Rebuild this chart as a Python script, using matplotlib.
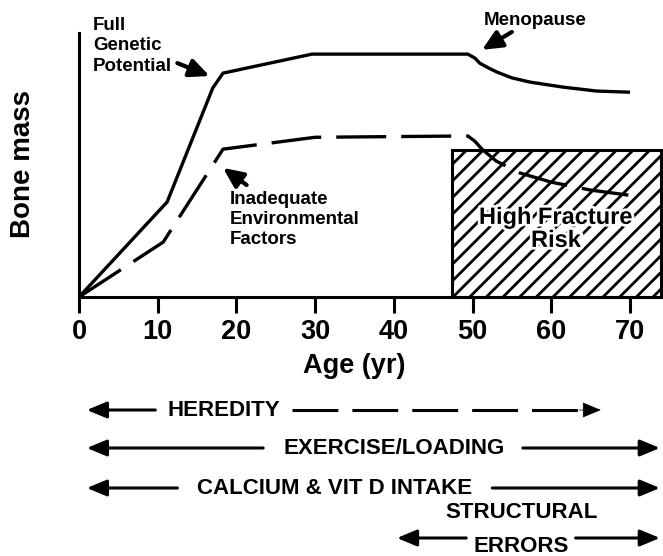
import matplotlib
matplotlib.use("Agg")
import matplotlib.pyplot as plt
import matplotlib.patheffects as pe
import matplotlib.transforms as mtransforms
from matplotlib.patches import Rectangle, FancyArrowPatch

plt.rcParams['font.family'] = 'Liberation Sans'
plt.rcParams['font.weight'] = 'bold'
plt.rcParams['hatch.linewidth'] = 2.0

# bone mass curves (age in yr, arbitrary mass units 0-100)
full_age = [0, 11.2, 17.0, 18.3, 29.6, 49.4, 50.3, 50.9, 52.0, 53.1, 55.0, 57.3, 61.5, 65.8, 69.8]
full_mass = [0, 36.0, 79.2, 84.8, 92.0, 92.0, 90.5, 88.6, 86.8, 85.2, 83.0, 81.4, 79.5, 78.0, 77.6]

low_age = [0, 10.7, 18.3, 30.0, 49.4, 50.3, 51.2, 53.0, 56.0, 60.0, 65.0, 69.8]
low_mass = [0, 20.8, 56.0, 60.5, 61.0, 59.0, 56.0, 51.5, 47.0, 43.5, 40.5, 38.6]

# high fracture risk box
risk_start = 47.35
risk_top = 55.7

age_ticks = [0, 10, 20, 30, 40, 50, 60, 70]

# factor arrows below the chart (ages where arrows start / end)
factor_labels = ['HEREDITY', 'EXERCISE/LOADING', 'CALCIUM & VIT D INTAKE', 'STRUCTURAL']
factor_from = [1.0, 1.0, 1.0, 40.4]
factor_to = [66.3, 73.8, 73.8, 73.8]
factor_mid = [18.4, 40.1, 32.5, 56.2]
gap_left = [9.7, 23.4, 12.5, 49.2]
gap_right = [27.1, 56.4, 52.5, 63.1]
factor_ypx = [410, 448, 488, 538]
factor_dashed = [True, False, False, False]

W, H = 663, 556
fig = plt.figure(figsize=(W / 100, H / 100), dpi=100)
ax = fig.add_axes([79 / W, 1 - 297 / H, (W - 79) / W, (297 - 33) / H])

def fy(py):
    # pixel row from top -> figure fraction
    return 1 - py / H

ax.plot(full_age, full_mass, color='k', lw=2.4, solid_joinstyle='miter', zorder=4)
ln, = ax.plot(low_age, low_mass, color='k', lw=2.4, zorder=4)
ln.set_dashes((15, 4.5))

ax.add_patch(Rectangle((risk_start, 0), 74.0 - risk_start, risk_top, facecolor='none',
                       edgecolor='k', hatch='//', lw=2.2, zorder=3, clip_on=False))
ax.text(60.6, 25.8, 'High Fracture\nRisk', ha='center', va='center', fontsize=17,
        linespacing=1.0, zorder=6,
        path_effects=[pe.withStroke(linewidth=4, foreground='white')])

ax.set_xlim(0, 74.2)
ax.set_ylim(0, 100)
ax.set_xticks(age_ticks)
ax.set_yticks([])
for s in ['top', 'right']:
    ax.spines[s].set_visible(False)
for s in ['left', 'bottom']:
    ax.spines[s].set_linewidth(2.2)
ax.tick_params(axis='x', direction='out', length=11.5, width=2.2, labelsize=19.5, pad=4)

aprops = dict(arrowstyle='-|>,head_length=12,head_width=5.5', mutation_scale=1,
              lw=3, color='k', shrinkA=0, shrinkB=0)
ax.text(1.8, 106, 'Full\nGenetic\nPotential', ha='left', va='top', fontsize=13.5,
        linespacing=1.25, clip_on=False)
ax.annotate('', xy=(16.6, 83.7), xytext=(12.5, 88.6), arrowprops=aprops, annotation_clip=False)
ax.text(57.9, 103.0, 'Menopause', ha='center', va='baseline', fontsize=13.5, clip_on=False)
ax.annotate('', xy=(51.2, 93.6), xytext=(55.0, 100.4), arrowprops=aprops, annotation_clip=False)
ax.text(19.2, 40.2, 'Inadequate\nEnvironmental\nFactors', ha='left', va='top',
        fontsize=13.5, linespacing=1.25)
ax.annotate('', xy=(18.3, 48.9), xytext=(21.3, 42.4), arrowprops=aprops, annotation_clip=False)

fig.text(23 / W, fy(164), 'Bone mass', rotation=90, ha='center', va='center', fontsize=20)

trans = mtransforms.blended_transform_factory(ax.transData, fig.transFigure)
ax.text(35, fy(373), 'Age (yr)', transform=trans, ha='center', va='baseline',
        fontsize=19.5, clip_on=False)

head = '-|>,head_length=12,head_width=5'
for i, lab in enumerate(factor_labels):
    y = fy(factor_ypx[i])
    fig.add_artist(FancyArrowPatch((gap_left[i], y), (factor_from[i], y), transform=trans,
                                   arrowstyle=head, mutation_scale=1, lw=2.2, color='k',
                                   shrinkA=0, shrinkB=0))
    if factor_dashed[i]:
        dl, = ax.plot([gap_right[i], factor_to[i] - 2.7], [y, y], transform=trans,
                      color='k', lw=2.2, clip_on=False)
        dl.set_dashes((15, 4.6))
        fig.add_artist(FancyArrowPatch((factor_to[i] - 2.8, y), (factor_to[i], y),
                                       transform=trans, arrowstyle=head, mutation_scale=1,
                                       lw=0.5, color='k', shrinkA=0, shrinkB=0))
    else:
        fig.add_artist(FancyArrowPatch((gap_right[i], y), (factor_to[i], y), transform=trans,
                                       arrowstyle=head, mutation_scale=1, lw=2.2, color='k',
                                       shrinkA=0, shrinkB=0))
    if lab == 'STRUCTURAL':
        ax.text(factor_mid[i], fy(513), lab, transform=trans, ha='center', va='center',
                fontsize=16, clip_on=False)
        ax.text(factor_mid[i], fy(546), 'ERRORS', transform=trans, ha='center',
                va='center', fontsize=16, clip_on=False)
    else:
        ax.text(factor_mid[i], y, lab, transform=trans, ha='center', va='center',
                fontsize=16, clip_on=False)

fig.savefig('out.png', dpi=100)
